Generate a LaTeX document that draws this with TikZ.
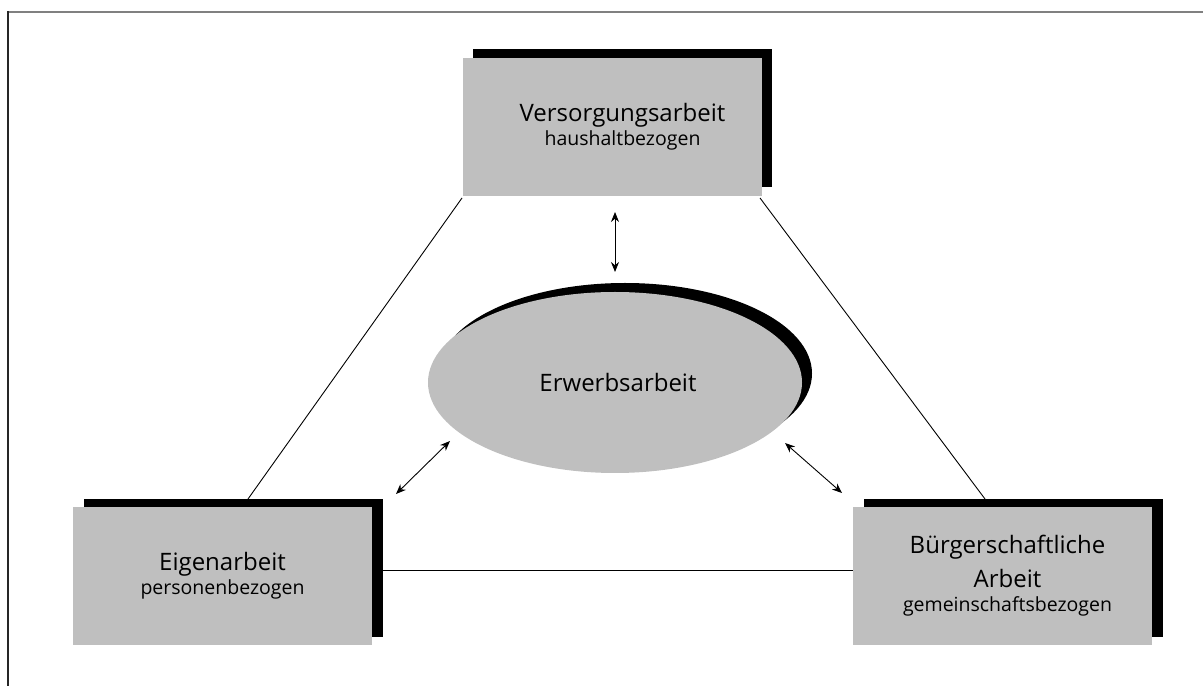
\documentclass[tikz,border=0pt]{standalone}
\usepackage{fontspec}
\setmainfont{Open Sans}
\usetikzlibrary{shapes.geometric,arrows.meta}
\definecolor{boxgray}{RGB}{191,191,191}
\definecolor{framegray}{RGB}{128,128,128}
\tikzset{
  box/.style={rectangle, fill=boxgray, minimum width=299pt, minimum height=138pt, inner sep=0pt, align=center, font=\fontsize{24}{34}\selectfont},
  shadowbox/.style={rectangle, fill=black, minimum width=299pt, minimum height=138pt, inner sep=0pt},
  oval/.style={ellipse, fill=boxgray, minimum width=374pt, minimum height=181pt, inner sep=0pt, font=\fontsize{24}{34}\selectfont},
  shadowoval/.style={ellipse, fill=black, minimum width=374pt, minimum height=181pt, inner sep=0pt},
  conn/.style={draw=black, line width=0.9pt},
  dbl/.style={draw=black, line width=0.9pt, {Stealth[length=10pt,width=8pt]}-{Stealth[length=10pt,width=8pt]}}
}
\newcommand{\subtxt}[1]{{\fontsize{19.5}{22}\selectfont #1}}
\begin{document}
\begin{tikzpicture}[x=1pt,y=1pt]
\useasboundingbox (0,0) rectangle (1203,686);
% frame
\draw[framegray, line width=2pt] (7,674) -- (1203,674);
\draw[black!85, line width=1.6pt] (8,675) -- (8,0);
% connector coordinates
\coordinate (ta) at (462,488);
\coordinate (la) at (248,187);
\coordinate (tb) at (760,488);
\coordinate (rb) at (985,187);
% shadows
\node[shadowbox] (topsh) at (622.5,568) {};
\node[shadowbox] (blsh) at (233.5,118) {};
\node[shadowbox] (brsh) at (1013.5,118) {};
% lines
\draw[conn] (ta) -- (la);
\draw[conn] (tb) -- (rb);
% boxes
\node[box] (top) at (612.5,559) {\hspace*{20pt}Versorgungsarbeit\\[-10pt]\subtxt{\hspace*{20pt}haushaltbezogen}};
\node[box] (bl) at (222.5,110) {Eigenarbeit\\[-10pt]\subtxt{personenbezogen}};
\node[box] (br) at (1002.5,110) {\hspace*{10pt}Bürgerschaftliche\\\hspace*{10pt}Arbeit\\[-10pt]\subtxt{\hspace*{10pt}gemeinschaftsbezogen}};
\draw[conn] (blsh.east |- 0,116) -- (br.west |- 0,116);
% ellipse
\node[shadowoval] (ovsh) at (625,312.5) {};
\node[oval] (ov) at (615,303.5) {\hspace*{6pt}Erwerbsarbeit};
% arrows
\coordinate (a1) at (615,474);
\coordinate (a2) at (615,414);
\coordinate (b1) at (396,192);
\coordinate (b2) at (450,245);
\coordinate (c1) at (785,243);
\coordinate (c2) at (842,193);
\draw[dbl] (a1) -- (a2);
\draw[dbl] (b1) -- (b2);
\draw[dbl] (c1) -- (c2);
\end{tikzpicture}
\end{document}
